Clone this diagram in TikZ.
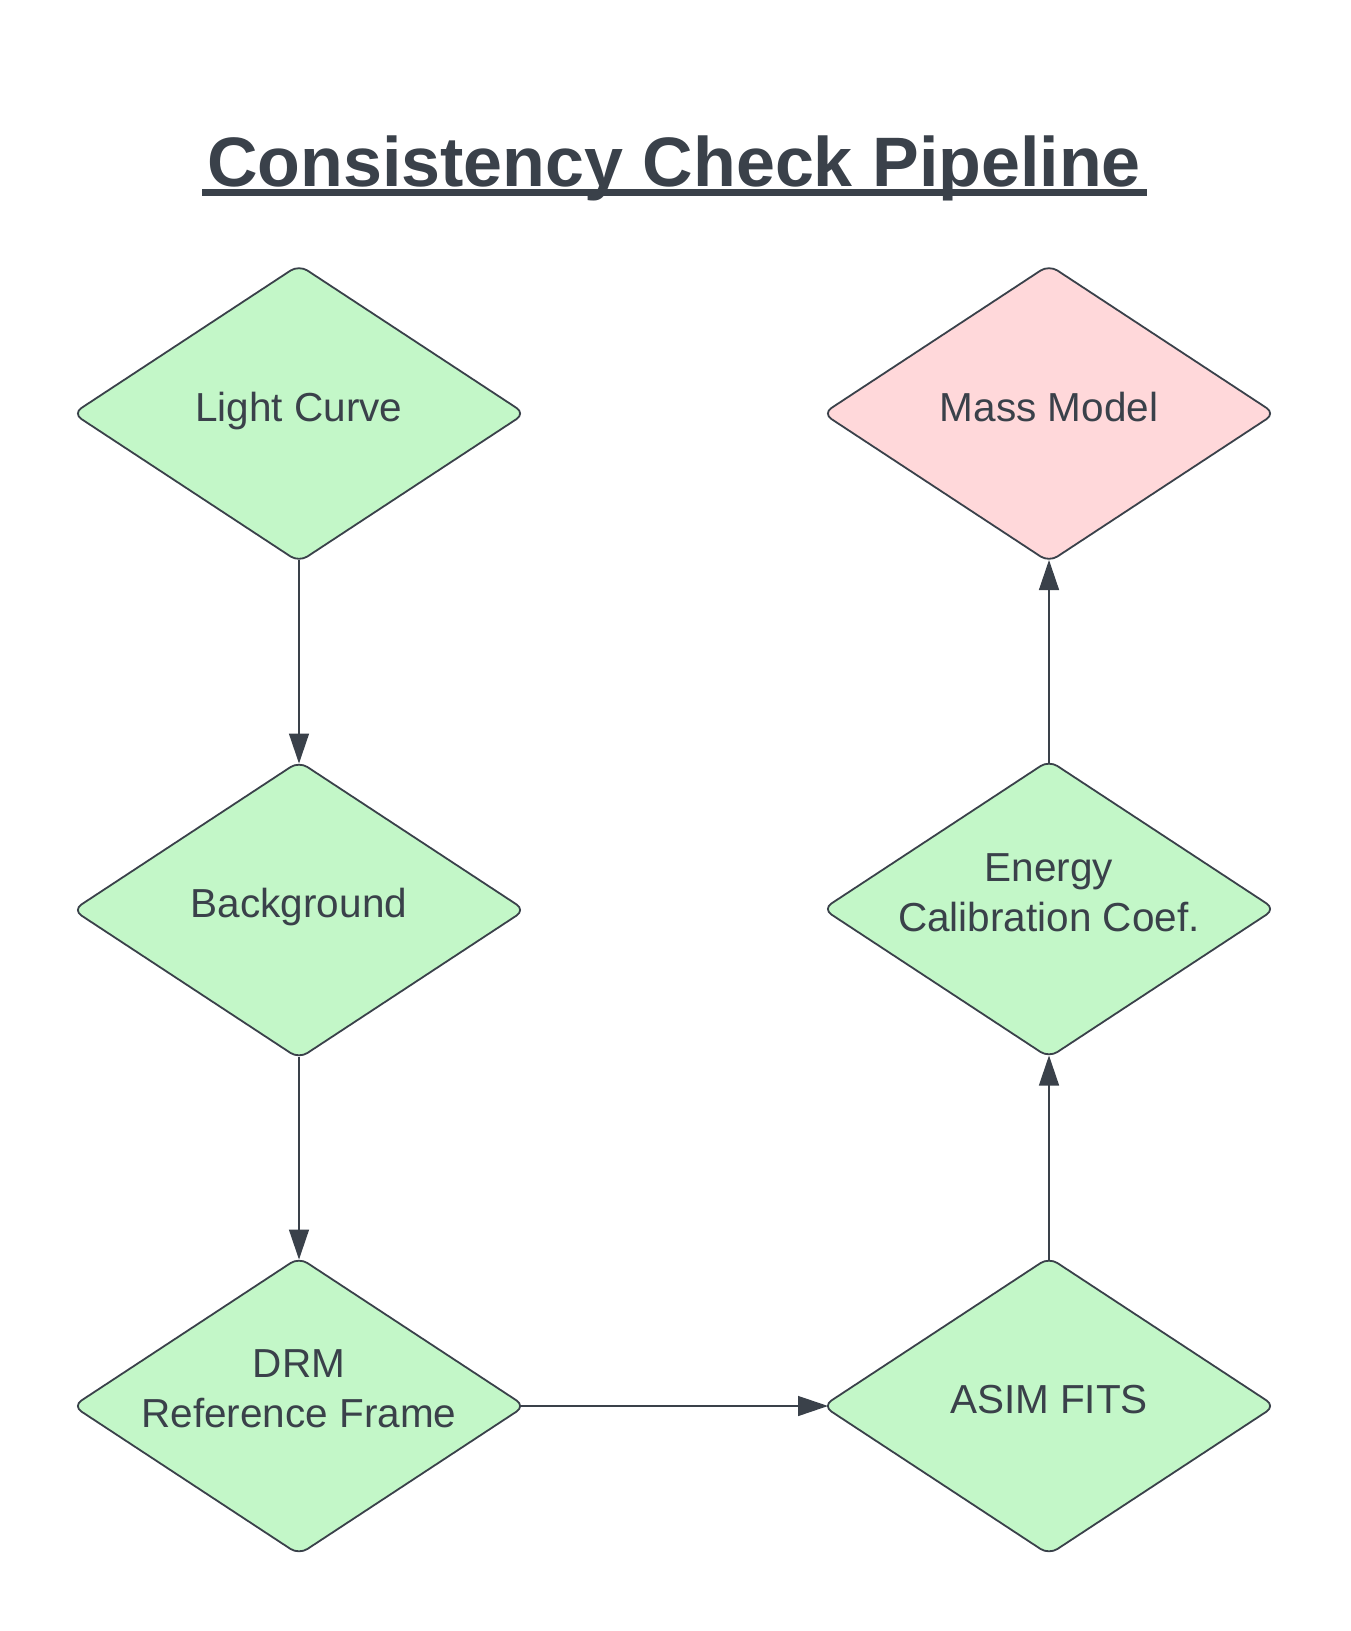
\documentclass[tikz,border=0pt]{standalone}
\usepackage{fontspec}
\setmainfont{Liberation Sans}
\usetikzlibrary{shapes.geometric,arrows.meta}
\definecolor{ink}{HTML}{3A414A}
\definecolor{gfill}{HTML}{C3F7C8}
\definecolor{pfill}{HTML}{FFD8DA}
\begin{document}
\begin{tikzpicture}[x=1pt,y=-1pt,
  dia/.style={diamond, draw=ink, line width=1.8pt, rounded corners=10pt,
    minimum width=452pt, minimum height=297pt, inner sep=0pt, outer sep=0pt, aspect=1.5},
  lbl/.style={text=ink, font=\fontsize{40.5}{50}\selectfont, inner sep=0pt, align=center},
  conn/.style={draw=ink, line width=1.4pt, -{Triangle[length=30pt,width=20pt]}}]
\useasboundingbox (0,0) rectangle (1350,1631);
\fill[white] (0,0) rectangle (1350,1631);

% title
\node[text=ink, font=\fontsize{70}{84}\selectfont\bfseries, inner sep=0pt, anchor=base]
  (title) at (674,186) {Consistency Check Pipeline};
\fill[ink] ([xshift=-5pt,yshift=-2.5pt]title.base west) rectangle ([xshift=6pt,yshift=-9.5pt]title.base east);

% diamonds
\node[dia, fill=gfill] (lc)   at (299,413.5) {};
\node[dia, fill=gfill] (bg)   at (299,910) {};
\node[dia, fill=gfill] (drm)  at (299,1406) {};
\node[dia, fill=gfill] (asim) at (1049,1406) {};
\node[dia, fill=gfill] (ecc)  at (1049,909) {};
\node[dia, fill=pfill] (mm)   at (1049,413.5) {};

% labels
\node[lbl, anchor=base] (lct)   at ([yshift=-7.5pt]lc.center)   {Light Curve};
\node[lbl, anchor=base] (bgt)   at ([yshift=-7.5pt]bg.center)   {Background};
\node[lbl]              (drmt)  at ([yshift=17.5pt]drm.center)  {DRM\\Reference Frame};
\node[lbl, anchor=base] (asimt) at ([yshift=-7.5pt]asim.center) {ASIM FITS};
\node[lbl]              (ecct)  at ([yshift=16.5pt]ecc.center)  {Energy\\Calibration Coef.};
\node[lbl, anchor=base] (mmt)   at ([yshift=-7.5pt]mm.center)   {Mass Model};

% connectors
\draw[conn, shorten <=-2pt, shorten >=-2pt] (lc.south) -- (bg.north);
\draw[conn, shorten <=-2pt, shorten >=-2pt] (bg.south) -- (drm.north);
\draw[conn, shorten <=-5pt, shorten >=-5pt] (drm.east) -- (asim.west);
\draw[conn, shorten <=-2pt, shorten >=-2pt] (asim.north) -- (ecc.south);
\draw[conn, shorten <=-2pt, shorten >=-2pt] (ecc.north) -- (mm.south);
\end{tikzpicture}
\end{document}
